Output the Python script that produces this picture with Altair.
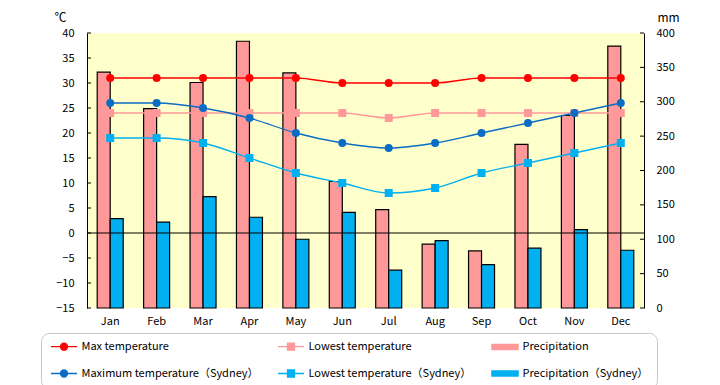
import altair as alt
import pandas as pd

months = ["Jan", "Feb", "Mar", "Apr", "May", "Jun", "Jul", "Aug", "Sep", "Oct", "Nov", "Dec"]
max_temp = [31, 31, 31, 31, 31, 30, 30, 30, 31, 31, 31, 31]
low_temp = [24, 24, 24, 24, 24, 24, 23, 24, 24, 24, 24, 24]
precip = [343, 290, 328, 388, 342, 184, 143, 93, 83, 238, 280, 381]
syd_max = [26, 26, 25, 23, 20, 18, 17, 18, 20, 22, 24, 26]
syd_low = [19, 19, 18, 15, 12, 10, 8, 9, 12, 14, 16, 18]
syd_precip = [130, 125, 162, 132, 100, 139, 55, 98, 63, 87, 114, 84]

series_names = ["Max temperature", "Lowest temperature", "Precipitation",
                "Maximum temperature（Sydney）", "Lowest temperature（Sydney）", "Precipitation（Sydney）"]
series_colors = ["#FF0000", "#FF9999", "#FF9999", "#0A6CC4", "#00B0F0", "#00B0F0"]
temp_ticks = list(range(-15, 41, 5))
precip_ticks = list(range(0, 401, 50))

FONT = "Noto Sans CJK JP"

temp_rows = []
for name, vals in [(series_names[0], max_temp), (series_names[1], low_temp),
                   (series_names[3], syd_max), (series_names[4], syd_low)]:
    for m, v in zip(months, vals):
        temp_rows.append({"month": m, "series": name, "value": v})
temp_df = pd.DataFrame(temp_rows)

precip_rows = []
for name, vals in [(series_names[2], precip), (series_names[5], syd_precip)]:
    for m, v in zip(months, vals):
        precip_rows.append({"month": m, "series": name, "value": v})
precip_df = pd.DataFrame(precip_rows)

bar_names = [series_names[2], series_names[5]]
circle_names = [series_names[0], series_names[3]]
low_names = [series_names[1], series_names[4]]
temp_names = [series_names[0], series_names[1], series_names[3], series_names[4]]

bar_list = "['" + "','".join(bar_names) + "']"
circ_list = "['" + "','".join(circle_names) + "']"
low_list = "['" + "','".join(low_names) + "']"
LINE_CIRCLE = "M-1.86,0H1.86M-0.5,0A0.5,0.5,0,1,0,0.5,0A0.5,0.5,0,1,0,-0.5,0Z"
LINE_SQUARE = "M-1.86,0H1.86M-0.5,-0.5H0.5V0.5H-0.5Z"
RECT = "M-1.86,-0.36H1.86V0.36H-1.86Z"
pad2 = "\u00a0" * 2
is_bar = f"indexof({bar_list}, datum.value) >= 0"

legend_def = alt.Legend(
    title=None, orient="none", legendX=-46, legendY=300, columns=3, direction="horizontal",
    symbolSize=196, symbolOffset=9.5, labelOffset=12, padding=8,
    rowPadding=14, columnPadding=16, labelFont=FONT, labelFontSize=11,
    labelColor="black", labelLimit=400, strokeColor="#C8C8C8", cornerRadius=8,
    fillColor="white", symbolOpacity=1,
    labelExpr=f"indexof({low_list}, datum.label) >= 0 ? datum.label + '{pad2}' : datum.label",
    symbolType=alt.ExprRef(expr=f"{is_bar} ? '{RECT}' : (indexof({circ_list}, datum.value) >= 0 ? '{LINE_CIRCLE}' : '{LINE_SQUARE}')"),
    symbolStrokeColor=alt.ExprRef(expr=f"{is_bar} ? 'black' : scale('fill', datum.value)"),
    symbolStrokeWidth=alt.ExprRef(expr=f"{is_bar} ? 1.5 : 1.3"),
)

legend_scale = alt.Scale(domain=series_names, range=series_colors)
color_scale = alt.Scale(domain=series_names, range=series_colors)

x_enc = alt.X("month:N", sort=months,
              scale=alt.Scale(domain=months, paddingInner=0.44, paddingOuter=0.22),
              axis=alt.Axis(title=None, ticks=False, tickSize=0, domain=False, labelPadding=7,
                            labelAngle=0, labelFont=FONT, labelFontSize=11, labelColor="black"))

temp_scale = alt.Scale(domain=[-15, 40], nice=False, zero=False)
temp_y = alt.Y("value:Q", scale=temp_scale,
               axis=alt.Axis(orient="left", values=temp_ticks, title="℃", titleAngle=0,
                             titleX=-27, titleY=-16, titleAlign="center", titleBaseline="middle",
                             titleFont=FONT, titleFontSize=12, titleFontWeight="normal",
                             titleColor="black", ticks=False, tickSize=0, labelPadding=13,
                             grid=False, domainColor="black", labelColor="black",
                             labelFont=FONT, labelFontSize=11))

precip_scale = alt.Scale(domain=[0, 400], nice=False, zero=True)
precip_y = alt.Y("value:Q", scale=precip_scale,
                 axis=alt.Axis(orient="right", values=precip_ticks, title="mm", titleAngle=0,
                               titleX=24, titleY=-16, titleAlign="center", titleBaseline="middle",
                               titleFont=FONT, titleFontSize=12, titleFontWeight="normal",
                               titleColor="black", ticks=False, tickSize=0, labelPadding=12,
                               grid=False, domainColor="black", labelColor="black",
                               labelFont=FONT, labelFontSize=11))

bars = alt.Chart(precip_df).mark_bar(stroke="black", strokeWidth=1.2, opacity=1).encode(
    x=x_enc,
    xOffset=alt.XOffset("series:N", scale=alt.Scale(domain=bar_names)),
    y=precip_y,
    fill=alt.Fill("series:N", scale=legend_scale, legend=legend_def),
)

# inward tick marks on the right (precipitation) axis
precip_tick_marks = alt.Chart(pd.DataFrame({"value": precip_ticks})).mark_rule(
    color="black", strokeWidth=1).encode(
    y=precip_y,
    x=alt.value(553), x2=alt.value(557),
)

zero_rule = alt.Chart(pd.DataFrame({"value": [0]})).mark_rule(color="black", strokeWidth=1).encode(
    y=temp_y,
)

# inward tick marks on the left (temperature) axis
temp_tick_marks = alt.Chart(pd.DataFrame({"value": temp_ticks})).mark_rule(
    color="black", strokeWidth=1).encode(
    y=temp_y,
    x=alt.value(0), x2=alt.value(4),
)

lines = alt.Chart(temp_df).mark_line(interpolate="monotone", strokeWidth=1.3).encode(
    x=x_enc,
    y=temp_y,
    color=alt.Color("series:N", scale=color_scale, legend=None),
    detail="series:N",
)

points = alt.Chart(temp_df).mark_point(filled=True, size=64, opacity=1).encode(
    x=x_enc,
    y=temp_y,
    color=alt.Color("series:N", scale=color_scale, legend=None),
    shape=alt.Shape("series:N", scale=alt.Scale(domain=temp_names,
                                                range=["circle", "square", "circle", "square"]),
                    legend=None),
)

precip_layer = alt.layer(bars, precip_tick_marks)
temp_layer = alt.layer(zero_rule, temp_tick_marks, lines, points)

chart = alt.layer(precip_layer, temp_layer).resolve_scale(y="independent").properties(
    width=557, height=275,
    autosize=alt.AutoSizeParams(type="none"),
    padding={"left": 79, "top": 25, "right": 68, "bottom": 77},
).configure_view(fill="#FFFFCC", strokeWidth=0)

chart.save("out.html", embed_options={"renderer": "svg", "actions": False})
